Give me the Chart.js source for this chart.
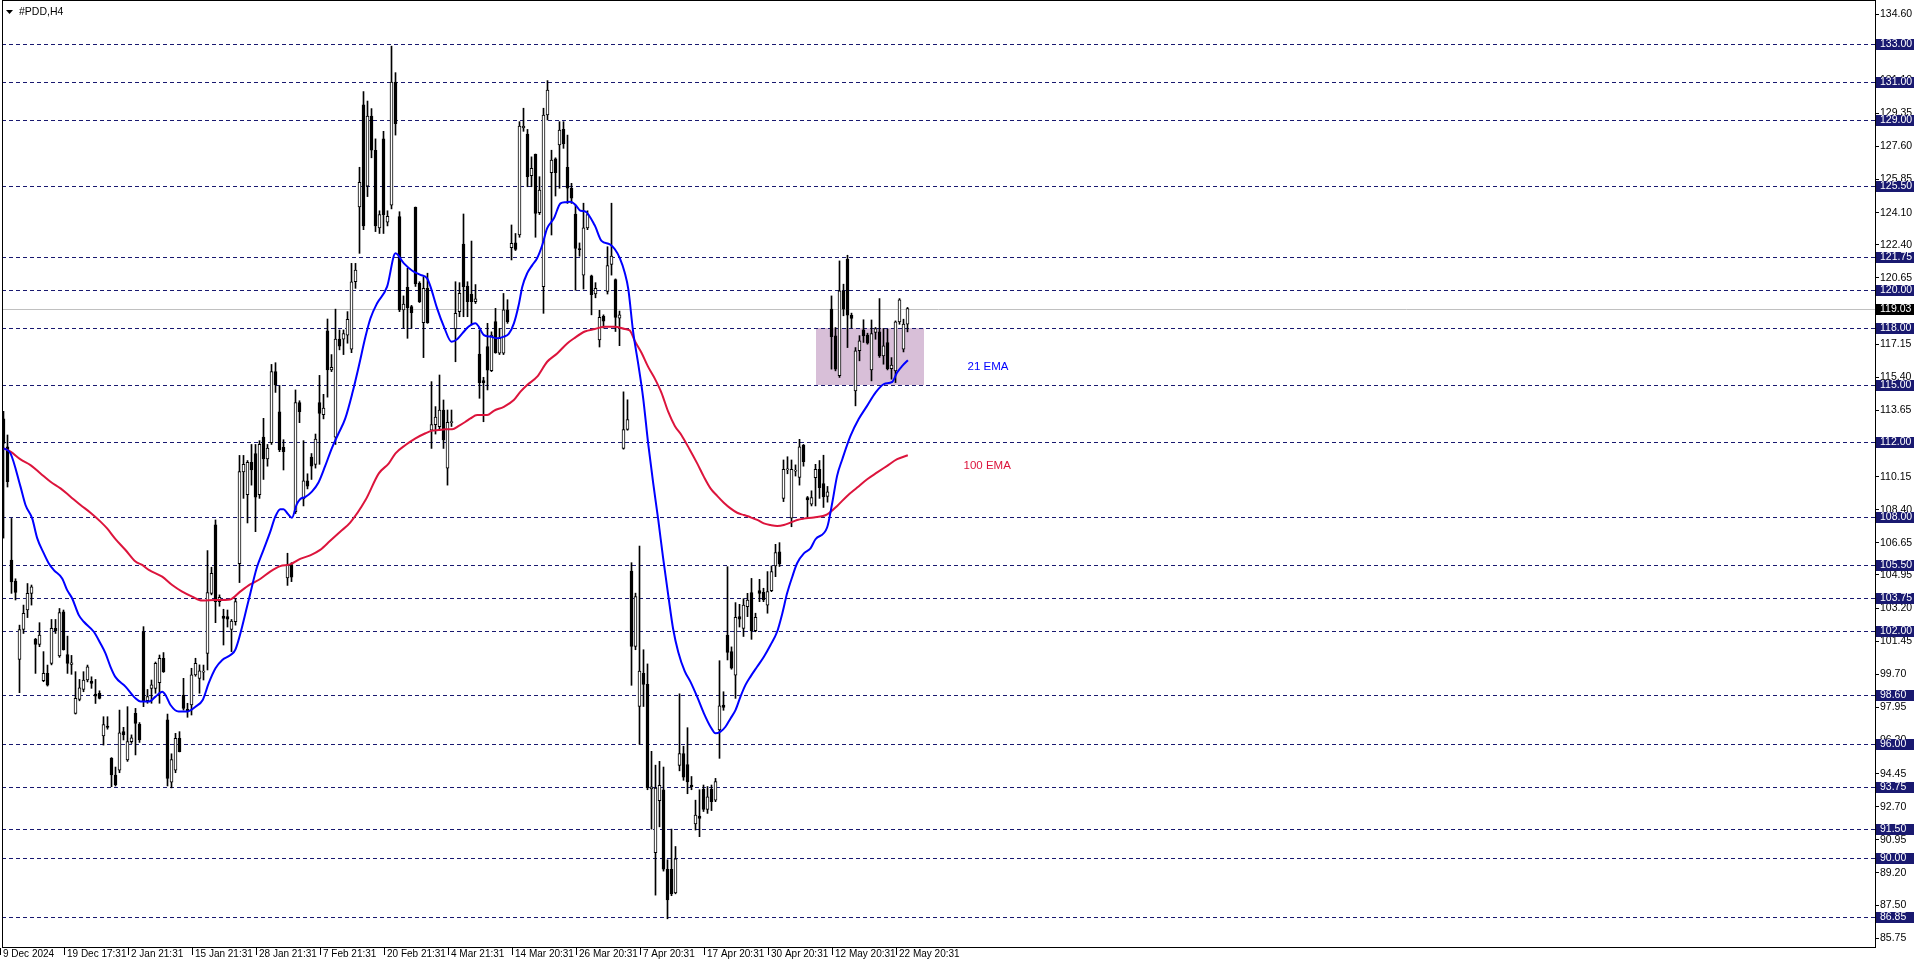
<!DOCTYPE html>
<html>
<head>
<meta charset="utf-8">
<title>#PDD,H4</title>
<script src="https://cdn.jsdelivr.net/npm/chart.js@4.4.1/dist/chart.umd.min.js"></script>
<style>
  html, body { margin: 0; padding: 0; background: #fff; }
  canvas { display: block; }
</style>
</head>
<body>
<canvas id="chart" width="1916" height="963"></canvas>
<script>
// H4 bars, 9 Dec 2024 .. 23 May 2025 (one entry per bar)
const opens = [
  113.2, 111.73, 105.74, 104.63, 100.49, 102.07, 103.1, 103.98, 101.55, 101.28,
  99.36, 99.75, 100.28, 102.13, 100.67, 103.0, 100.75, 100.22, 97.63, 98.37,
  98.9, 99.4, 99.34, 98.66, 98.69, 96.44, 96.96, 95.26, 94.38, 94.64,
  96.67, 95.17, 96.14, 97.64, 97.06, 101.96, 98.31, 98.96, 98.96, 99.26,
  100.55, 97.3, 94.0, 94.64, 96.32, 98.61, 97.85, 98.08, 99.67, 99.49,
  99.82, 100.81, 103.98, 107.6, 103.54, 102.78, 102.75, 102.08, 102.48, 105.55,
  110.4, 109.2, 110.9, 111.37, 109.2, 112.24, 111.08, 111.95, 115.7, 113.58,
  111.7, 104.8, 105.5, 108.3, 114.06, 108.97, 109.93, 111.18, 110.8, 114.06,
  113.43, 117.85, 115.79, 112.24, 117.42, 117.42, 117.63, 116.88, 120.45, 124.4,
  129.8, 125.5, 129.2, 127.4, 123.3, 128.0, 123.6, 124.5, 131.0, 123.89,
  118.96, 120.15, 119.13, 124.38, 120.37, 118.29, 120.1, 112.6, 112.9, 112.79,
  113.67, 110.59, 113.0, 117.95, 118.87, 122.44, 120.22, 119.78, 119.4, 116.63,
  115.22, 117.02, 115.75, 118.34, 116.67, 116.67, 118.96, 122.25, 122.51, 122.92,
  128.58, 128.26, 126.06, 127.18, 124.1, 120.19, 129.26, 126.21, 126.94, 127.68,
  128.5, 126.5, 125.39, 124.03, 122.2, 120.8, 123.3, 120.76, 119.8, 117.37,
  118.62, 119.94, 121.36, 120.56, 118.52, 111.64, 112.64, 105.16, 101.17, 98.0,
  99.75, 99.17, 93.64, 90.27, 93.02, 93.59, 89.4, 89.4, 88.15, 94.88,
  95.51, 94.93, 93.85, 91.79, 92.21, 93.62, 92.56, 93.62, 93.05, 96.76,
  98.08, 101.78, 100.9, 99.66, 102.75, 102.13, 103.28, 104.02, 102.01, 104.12,
  104.03, 103.36, 104.12, 105.43, 106.18, 109.0, 110.5, 107.95, 110.44, 110.11,
  111.82, 109.04, 108.69, 110.1, 110.54, 109.78, 109.1, 119.0, 117.59, 115.48,
  119.97, 121.64, 118.68, 114.68, 116.8, 117.91, 117.63, 115.79, 117.77, 117.8,
  116.53, 117.24, 115.86, 115.74, 118.33, 116.89, 118.21
];
const highs = [
  113.6, 112.35, 107.94, 104.75, 102.3, 103.36, 104.5, 104.42, 101.6, 102.43,
  100.9, 100.19, 102.6, 102.6, 103.18, 103.1, 101.72, 100.7, 99.84, 99.43,
  99.84, 100.19, 99.57, 99.43, 98.83, 97.46, 97.46, 95.3, 94.8, 97.81,
  96.9, 97.99, 96.5, 97.9, 97.15, 102.22, 98.9, 99.4, 100.35, 100.72,
  100.85, 97.6, 95.5, 96.58, 96.67, 99.49, 98.17, 100.02, 100.55, 100.2,
  100.19, 106.24, 105.36, 107.86, 103.9, 103.14, 103.1, 102.6, 103.7, 111.27,
  111.27, 111.0, 111.85, 111.85, 112.05, 113.23, 111.85, 116.08, 116.17, 114.97,
  112.1, 106.1, 105.6, 114.73, 114.16, 112.05, 110.3, 111.37, 112.4, 115.5,
  114.5, 118.48, 116.6, 119.0, 117.9, 117.9, 118.87, 121.42, 121.42, 126.5,
  130.5, 130.0, 129.6, 128.0, 124.2, 128.4, 124.2, 132.9, 131.5, 124.15,
  119.7, 121.16, 119.2, 124.4, 120.45, 120.72, 120.9, 115.17, 113.85, 115.52,
  114.2, 113.67, 113.67, 120.45, 120.4, 124.03, 120.45, 122.6, 120.3, 117.9,
  115.4, 118.25, 117.8, 119.04, 117.99, 119.83, 119.5, 123.45, 123.0, 128.91,
  129.62, 128.5, 127.05, 127.2, 126.0, 129.62, 131.08, 127.4, 127.0, 128.91,
  128.91, 128.2, 125.65, 124.5, 122.5, 124.6, 124.2, 120.8, 120.4, 118.94,
  118.7, 122.3, 124.6, 120.6, 118.9, 114.63, 114.21, 105.6, 103.99, 106.48,
  101.0, 100.25, 95.63, 94.9, 95.1, 94.8, 89.9, 91.52, 90.6, 98.67,
  95.9, 96.88, 94.3, 93.05, 93.6, 93.85, 93.77, 93.85, 94.2, 100.42,
  98.78, 105.39, 101.15, 103.49, 103.4, 103.7, 103.98, 104.77, 102.93, 104.72,
  104.25, 105.13, 105.43, 106.57, 106.66, 111.03, 111.2, 111.03, 110.77, 112.12,
  111.85, 109.1, 109.4, 110.8, 111.0, 111.28, 109.63, 119.7, 118.03, 121.55,
  120.32, 121.85, 118.79, 116.97, 117.6, 118.44, 117.73, 118.43, 118.03, 119.56,
  117.98, 117.94, 116.44, 118.38, 119.56, 118.47, 119.09
];
const lows = [
  106.9, 109.6, 103.98, 103.63, 98.73, 101.86, 102.7, 103.36, 99.75, 101.16,
  99.31, 99.08, 100.2, 101.86, 100.6, 100.98, 99.75, 99.7, 97.6, 98.3,
  98.78, 99.3, 98.96, 98.16, 98.4, 95.96, 96.8, 93.76, 93.8, 94.5,
  96.23, 95.1, 96.05, 95.44, 96.1, 97.99, 98.17, 98.17, 98.7, 98.17,
  99.8, 93.8, 93.7, 94.5, 95.6, 97.81, 97.43, 97.55, 99.6, 98.7,
  99.4, 99.93, 103.9, 102.43, 103.3, 101.25, 102.2, 100.9, 102.3, 104.55,
  109.0, 107.7, 109.7, 107.24, 109.0, 110.0, 110.7, 111.85, 114.6, 111.47,
  110.5, 104.4, 104.6, 108.2, 113.0, 108.6, 109.5, 110.0, 110.6, 110.8,
  113.2, 114.35, 115.7, 111.85, 116.85, 116.6, 117.2, 116.7, 120.1, 121.95,
  123.2, 124.95, 127.0, 123.1, 123.0, 123.0, 123.4, 124.3, 128.2, 118.87,
  117.99, 117.46, 117.99, 120.2, 119.35, 116.44, 118.25, 111.64, 112.4, 112.6,
  111.64, 109.7, 112.8, 116.22, 118.6, 118.6, 118.6, 118.16, 119.3, 114.29,
  113.05, 114.73, 115.7, 116.67, 116.6, 116.6, 118.25, 121.6, 122.1, 122.8,
  128.4, 125.47, 125.47, 122.8, 124.0, 118.78, 129.0, 122.92, 124.98, 125.39,
  127.5, 124.59, 124.59, 120.0, 121.8, 120.06, 123.2, 118.7, 119.6, 117.0,
  118.0, 119.8, 120.8, 117.82, 117.07, 111.6, 112.6, 99.12, 101.0, 96.0,
  98.0, 93.6, 91.52, 88.03, 91.64, 89.3, 86.78, 88.0, 88.1, 94.6,
  94.1, 93.39, 93.6, 91.47, 91.12, 92.45, 92.35, 92.5, 92.97, 95.26,
  97.8, 100.46, 99.97, 98.43, 102.2, 101.7, 102.75, 101.55, 101.95, 103.54,
  103.54, 102.93, 104.07, 104.86, 105.4, 108.83, 110.3, 107.5, 110.18, 109.7,
  110.7, 107.95, 108.6, 108.6, 109.0, 108.52, 108.8, 115.83, 115.74, 115.39,
  118.65, 116.97, 118.0, 113.89, 116.27, 117.24, 117.15, 115.21, 117.41, 116.45,
  116.09, 115.79, 115.3, 115.12, 118.2, 116.74, 117.8
];
const closes = [
  111.9, 109.88, 104.59, 104.03, 102.07, 102.92, 103.98, 104.33, 101.28, 101.78,
  99.75, 99.13, 102.13, 102.0, 102.96, 101.0, 100.28, 100.31, 98.43, 98.99,
  99.4, 100.1, 99.22, 98.55, 98.43, 97.05, 96.89, 94.38, 93.85, 96.61,
  96.5, 96.14, 96.35, 97.11, 96.23, 98.26, 98.52, 99.14, 100.28, 100.55,
  99.84, 94.2, 95.2, 96.32, 95.61, 97.9, 97.73, 99.67, 100.28, 99.88,
  99.86, 104.02, 105.04, 103.54, 103.77, 102.66, 102.61, 102.52, 103.54, 110.41,
  110.8, 110.9, 110.5, 109.07, 111.85, 111.08, 111.66, 115.7, 115.0, 111.57,
  111.47, 105.5, 104.84, 114.06, 113.58, 109.93, 109.64, 110.7, 112.14, 113.49,
  113.77, 115.79, 115.93, 117.42, 117.04, 117.71, 118.46, 120.45, 121.07, 125.7,
  123.4, 129.2, 127.4, 123.4, 124.0, 124.0, 123.9, 131.0, 128.8, 118.96,
  119.27, 119.08, 118.82, 120.33, 119.4, 120.1, 118.29, 112.9, 113.3, 113.67,
  112.09, 113.02, 113.05, 118.78, 119.84, 120.19, 119.4, 119.4, 119.54, 115.11,
  115.11, 115.78, 117.63, 116.7, 117.46, 118.96, 118.34, 122.48, 122.16, 128.68,
  128.68, 126.0, 126.44, 124.06, 125.3, 129.26, 130.58, 126.88, 126.21, 128.47,
  127.73, 125.39, 124.86, 122.21, 122.15, 123.3, 124.0, 119.77, 120.1, 118.57,
  118.37, 121.31, 121.8, 118.57, 118.7, 112.64, 113.16, 101.17, 103.81, 99.87,
  99.17, 93.69, 93.76, 93.69, 93.84, 89.4, 87.78, 88.1, 89.95, 95.51,
  94.26, 94.01, 93.76, 92.26, 92.09, 92.56, 93.23, 92.97, 94.03, 98.04,
  97.95, 100.86, 100.02, 102.71, 102.62, 103.36, 103.63, 102.01, 102.71, 103.98,
  103.63, 104.07, 105.13, 106.13, 105.53, 110.54, 110.56, 110.54, 110.48, 111.73,
  110.94, 108.92, 109.04, 110.54, 109.57, 109.08, 109.34, 117.55, 115.83, 119.97,
  119.0, 118.68, 118.51, 116.8, 117.33, 117.59, 117.2, 117.71, 117.98, 116.53,
  117.06, 115.86, 116.04, 118.33, 119.49, 118.21, 119.03
];

// moving averages: bar position -> value
const ema21X = [0.08, 1.75, 4.25, 5.5, 7.17, 8.42, 10.08, 11.33, 12.58, 14.67, 15.92, 17.17, 18.83, 20.08, 22.58, 24.25, 25.5, 26.75, 28, 30.5,
  33, 34.25, 36.3, 38, 39.7, 40.5, 41.75, 43.8, 45.9, 48, 49.8, 51.3, 53, 54.7, 56.75, 58, 61.25, 63.3, 65, 66.7,
  67.9, 69.2, 70, 71, 72.1, 73.3, 74.2, 75.4, 77.1, 78.75, 80.4, 82.1, 83.75, 85.4, 87.2, 88.8, 90.5, 91.75, 93.4, 95.9,
  98, 100.1, 102.2, 104.25, 105.9, 106.75, 108.4, 110.1, 112, 113.4, 114.7, 116.3, 118, 118.8, 120.1, 121.75, 123.4, 125.1, 126.3, 127.6,
  128.8, 129.7, 130.9, 132.2, 133.4, 134.7, 135.9, 137.6, 139.25, 140.5, 141.75, 143, 144.25, 145.3, 147.8, 149.5, 151.6, 152.8, 154.1, 155.3,
  156.2, 157.4, 158.7, 159.9, 161.2, 162.4, 163.7, 164.9, 166.2, 167.4, 168.7, 170.3, 171.75, 173.4, 175.1, 176.75, 178, 179.25, 180.5, 181.75,
  183, 184.25, 185.5, 186.75, 188.4, 190.1, 191.75, 193.4, 194.7, 195.9, 197.2, 198.4, 200.1, 201.75, 203, 205.9, 207.2, 208.4, 209.7, 211.75,
  213.8, 215.9, 218, 220.1, 222.2, 223.4, 224.7, 226.1];
const ema21Y = [111.64, 111.38, 109.62, 108.65, 107.94, 106.9, 106.09, 105.56, 105.21, 104.77, 104.15, 103.71, 102.83, 102.48, 101.95, 101.33, 100.81, 100.1, 99.55, 99.05,
  98.43, 98.26, 98.26, 98.52, 98.78, 98.61, 98.08, 97.73, 97.73, 97.99, 98.34, 99.23, 100.02, 100.46, 100.72, 101.02, 103.59, 105.32, 106.28, 107.24,
  108.01, 108.43, 108.43, 108.2, 107.97, 108.68, 108.97, 109.07, 109.36, 109.84, 110.7, 111.66, 112.43, 113.2, 114.55, 115.96, 117.55, 118.52, 119.31, 120.19,
  121.95, 121.42, 121.03, 120.81, 120.63, 120.19, 119.04, 118.08, 117.28, 117.41, 117.72, 118.08, 118.25, 118.08, 117.63, 117.55, 117.46, 117.55, 117.69, 118.25,
  119.22, 120.19, 120.89, 121.33, 121.69, 122.39, 123.27, 123.8, 124.59, 124.65, 124.68, 124.51, 124.2, 124.18, 123.43, 122.61, 122.43, 122.18, 121.69, 120.94,
  120.06, 117.82, 116.08, 114.33, 111.84, 109.84, 107.85, 105.85, 103.86, 102.11, 100.87, 99.87, 99.3, 98.52, 97.64, 96.93, 96.58, 96.67, 96.93, 97.37,
  97.81, 98.52, 99.14, 99.58, 100.1, 100.63, 101.25, 101.95, 102.92, 103.98, 104.86, 105.57, 106.09, 106.36, 106.84, 107.46, 108.78, 110.19, 111.07, 112.3,
  113.19, 113.89, 114.59, 115.04, 115.16, 115.65, 116.0, 116.3];
const ema100X = [0.08, 1.75, 4.25, 6.75, 9.25, 11.75, 14.25, 16.75, 19.25, 21.75, 24.25, 25.9, 28, 30.5, 33, 34.67, 36.33, 39.67, 42.17, 44.67,
  47.17, 49.67, 53, 56.67, 59.17, 61.67, 64.17, 66.67, 69.17, 71.67, 74.17, 76.67, 79.17, 81.67, 84.17, 86.67, 90.5, 93.83, 96.33, 98,
  100.5, 103, 105.5, 107.17, 108.83, 110.5, 112.17, 113.83, 115.5, 116.75, 118.42, 120.92, 122.58, 125.08, 127.58, 129.25, 130.92, 133.42, 135.92, 138.42,
  140.92, 142.58, 145.33, 147.83, 150.33, 152.83, 155.33, 156.58, 157.83, 159.5, 161.17, 162.83, 164.5, 166.17, 167.83, 169.5, 171.5, 173.42, 175.08, 176.75,
  178.42, 180.08, 181.75, 183.42, 185.08, 186.75, 188.42, 190.08, 191.75, 193.42, 195.08, 196.75, 198.42, 200.08, 202.58, 205.92, 208.42, 210.92, 213.42, 215.92,
  218.42, 220.92, 223.42, 226.08];
const ema100Y = [111.64, 111.47, 111.06, 110.76, 110.32, 109.88, 109.53, 109.09, 108.65, 108.24, 107.77, 107.41, 106.85, 106.27, 105.66, 105.48, 105.22, 104.86, 104.42, 104.07,
  103.81, 103.6, 103.63, 103.66, 104.07, 104.45, 104.74, 105.13, 105.42, 105.51, 105.8, 105.99, 106.28, 106.76, 107.24, 107.72, 108.91, 110.32, 110.85, 111.38,
  111.82, 112.17, 112.44, 112.58, 112.61, 112.65, 112.65, 112.83, 113.05, 113.23, 113.4, 113.4, 113.63, 113.84, 114.2, 114.64, 114.99, 115.43, 116.22, 116.66,
  117.19, 117.45, 117.82, 117.95, 118.07, 118.07, 117.95, 117.87, 117.32, 116.7, 115.95, 115.33, 114.58, 113.58, 112.83, 112.34, 111.6, 110.85, 110.15, 109.53,
  109.13, 108.77, 108.47, 108.24, 108.12, 108.0, 107.86, 107.68, 107.59, 107.54, 107.59, 107.72, 107.86, 107.93, 107.99, 108.16, 108.6, 109.13, 109.57, 110.01,
  110.37, 110.72, 111.07, 111.28];

// horizontal levels, bid, price scale and time scale labels
const levels = [133.00, 131.00, 129.00, 125.50, 121.75, 120.00, 118.00, 115.00, 112.00, 108.00, 105.50, 103.75, 102.00, 98.60, 96.00, 93.75, 91.50, 90.00, 86.85];
const bid = 119.03;
const priceTicks = [134.60, 132.85, 131.10, 129.35, 127.60, 125.85, 124.10, 122.40, 120.65, 118.90, 117.15, 115.40, 113.65, 111.90, 110.15,
  108.40, 106.65, 104.95, 103.20, 101.45, 99.70, 97.95, 96.20, 94.45, 92.70, 90.95, 89.20, 87.50, 85.75];
const timeLabels = ["9 Dec 2024", "19 Dec 17:31", "2 Jan 21:31", "15 Jan 21:31", "28 Jan 21:31", "7 Feb 21:31", "20 Feb 21:31", "4 Mar 21:31",
  "14 Mar 20:31", "26 Mar 20:31", "7 Apr 20:31", "17 Apr 20:31", "30 Apr 20:31", "12 May 20:31", "22 May 20:31"];
const barsPerLabel = 16;

// consolidation box and the two text notes
const zone = { from: 203, to: 230, top: 118, bottom: 115 };
const notes = [
  { text: "21 EMA", at: 241, price: 115.95, color: "#0000ff" },
  { text: "100 EMA", at: 240, price: 110.7, color: "#dc143c" }
];

const FAMILY = '"Liberation Sans", Arial, sans-serif';
const NAVY = "#191970";

const bodyData = opens.map((o, i) => ({ x: i, y: [o, closes[i]] }));
const wickData = lows.map((l, i) => ({ x: i, y: [l, highs[i]] }));
const bodyFill = opens.map((o, i) => closes[i] >= o ? "#ffffff" : "#000000");
const ema21Data = ema21X.map((x, k) => ({ x: x, y: ema21Y[k] }));
const ema100Data = ema100X.map((x, k) => ({ x: x, y: ema100Y[k] }));

const overlay = {
  id: "overlay",
  beforeDatasetsDraw(chart) {
    const { ctx, chartArea: a, scales: { x, y } } = chart;
    ctx.save();
    ctx.beginPath();
    ctx.rect(a.left, a.top, a.right - a.left, a.bottom - a.top);
    ctx.clip();

    // box
    const zx1 = x.getPixelForValue(zone.from), zx2 = x.getPixelForValue(zone.to);
    const zy1 = y.getPixelForValue(zone.top), zy2 = y.getPixelForValue(zone.bottom);
    ctx.fillStyle = "#d8bfd8";
    ctx.fillRect(Math.round(zx1), Math.round(zy1), Math.round(zx2 - zx1), Math.round(zy2 - zy1));

    // dashed levels
    ctx.lineWidth = 1;
    ctx.strokeStyle = NAVY;
    ctx.setLineDash([4, 3]);
    levels.forEach(v => {
      const py = Math.round(y.getPixelForValue(v)) + 0.5;
      ctx.beginPath();
      ctx.moveTo(a.left, py);
      ctx.lineTo(a.right, py);
      ctx.stroke();
    });

    // bid line
    ctx.setLineDash([]);
    ctx.strokeStyle = "#c0c0c0";
    const by = Math.round(y.getPixelForValue(bid)) + 0.5;
    ctx.beginPath();
    ctx.moveTo(a.left, by);
    ctx.lineTo(a.right, by);
    ctx.stroke();
    ctx.restore();
  },
  afterDraw(chart) {
    const { ctx, chartArea: a, scales: { x, y } } = chart;
    ctx.save();

    // notes
    ctx.font = "11.5px " + FAMILY;
    ctx.textBaseline = "middle";
    ctx.textAlign = "left";
    notes.forEach(n => {
      ctx.fillStyle = n.color;
      ctx.fillText(n.text, x.getPixelForValue(n.at), y.getPixelForValue(n.price));
    });

    // frame
    ctx.strokeStyle = "#000";
    ctx.lineWidth = 1;
    ctx.strokeRect(a.left + 0.5, a.top + 0.5, a.right - a.left, a.bottom - a.top - 1);

    // time scale: tick mark and label for every 16th bar
    ctx.fillStyle = "#000";
    ctx.font = "10px " + FAMILY;
    ctx.textBaseline = "middle";
    timeLabels.forEach((t, k) => {
      const px = Math.round(x.getPixelForValue(k * barsPerLabel));
      ctx.beginPath();
      ctx.moveTo(px - 3.5, a.bottom);
      ctx.lineTo(px - 3.5, a.bottom + 7);
      ctx.stroke();
      ctx.fillText(t, Math.max(px - 1, 3), a.bottom + 6);
    });

    // title
    ctx.beginPath();
    ctx.moveTo(6, 10);
    ctx.lineTo(13, 10);
    ctx.lineTo(9.5, 14);
    ctx.closePath();
    ctx.fill();
    ctx.font = "10.5px " + FAMILY;
    ctx.fillText("#PDD,H4", 19, 12);

    // price boxes on the axis
    const tag = (v, color) => {
      const py = Math.round(y.getPixelForValue(v));
      ctx.fillStyle = color;
      ctx.fillRect(a.right + 1, py - 5, 38, 11);
      ctx.fillStyle = "#ffffff";
      ctx.fillText(v.toFixed(2), a.right + 5, py + 0.5);
    };
    levels.forEach(v => tag(v, NAVY));
    tag(bid, "#000000");
    ctx.restore();
  }
};

new Chart(document.getElementById("chart"), {
  type: "bar",
  data: {
    datasets: [
      { type: "line", label: "21 EMA", data: ema21Data, borderColor: "#0000ff", borderWidth: 2,
        pointRadius: 0, cubicInterpolationMode: "monotone", order: 0 },
      { type: "line", label: "100 EMA", data: ema100Data, borderColor: "#dc143c", borderWidth: 2,
        pointRadius: 0, cubicInterpolationMode: "monotone", order: 0 },
      { label: "body", data: bodyData, backgroundColor: bodyFill, borderColor: "#000000", borderWidth: 1,
        borderSkipped: false, barThickness: 3, minBarLength: 1, grouped: false, order: 1 },
      { label: "wick", data: wickData, backgroundColor: "#000000", borderWidth: 0,
        barThickness: 1, grouped: false, order: 2 }
    ]
  },
  options: {
    responsive: false,
    animation: false,
    devicePixelRatio: 1,
    events: [],
    layout: { padding: { left: 2, top: 0, right: 0, bottom: 0 } },
    plugins: { legend: { display: false }, tooltip: { enabled: false }, title: { display: false } },
    scales: {
      x: {
        type: "linear",
        min: -0.375,
        max: 467.875,
        offset: false,
        border: { display: false },
        grid: { display: false },
        ticks: { display: false },
        afterBuildTicks: s => { s.ticks = timeLabels.map((_, k) => ({ value: k * barsPerLabel })); },
        afterFit: s => { s.height = 15; s.paddingLeft = 0; s.paddingRight = 0; }
      },
      y: {
        type: "linear",
        position: "right",
        min: 85.236,
        max: 135.34,
        border: { display: false },
        grid: { drawOnChartArea: false, drawTicks: true, tickLength: 4, color: "#000" },
        ticks: {
          autoSkip: false, padding: 1, color: "#000",
          font: { family: FAMILY, size: 10.5 },
          callback: v => Number(v).toFixed(2)
        },
        afterBuildTicks: s => { s.ticks = priceTicks.map(v => ({ value: v })); },
        afterFit: s => { s.width = 41; s.paddingTop = 0; s.paddingBottom = 0; }
      }
    }
  },
  plugins: [overlay]
});
</script>
</body>
</html>
